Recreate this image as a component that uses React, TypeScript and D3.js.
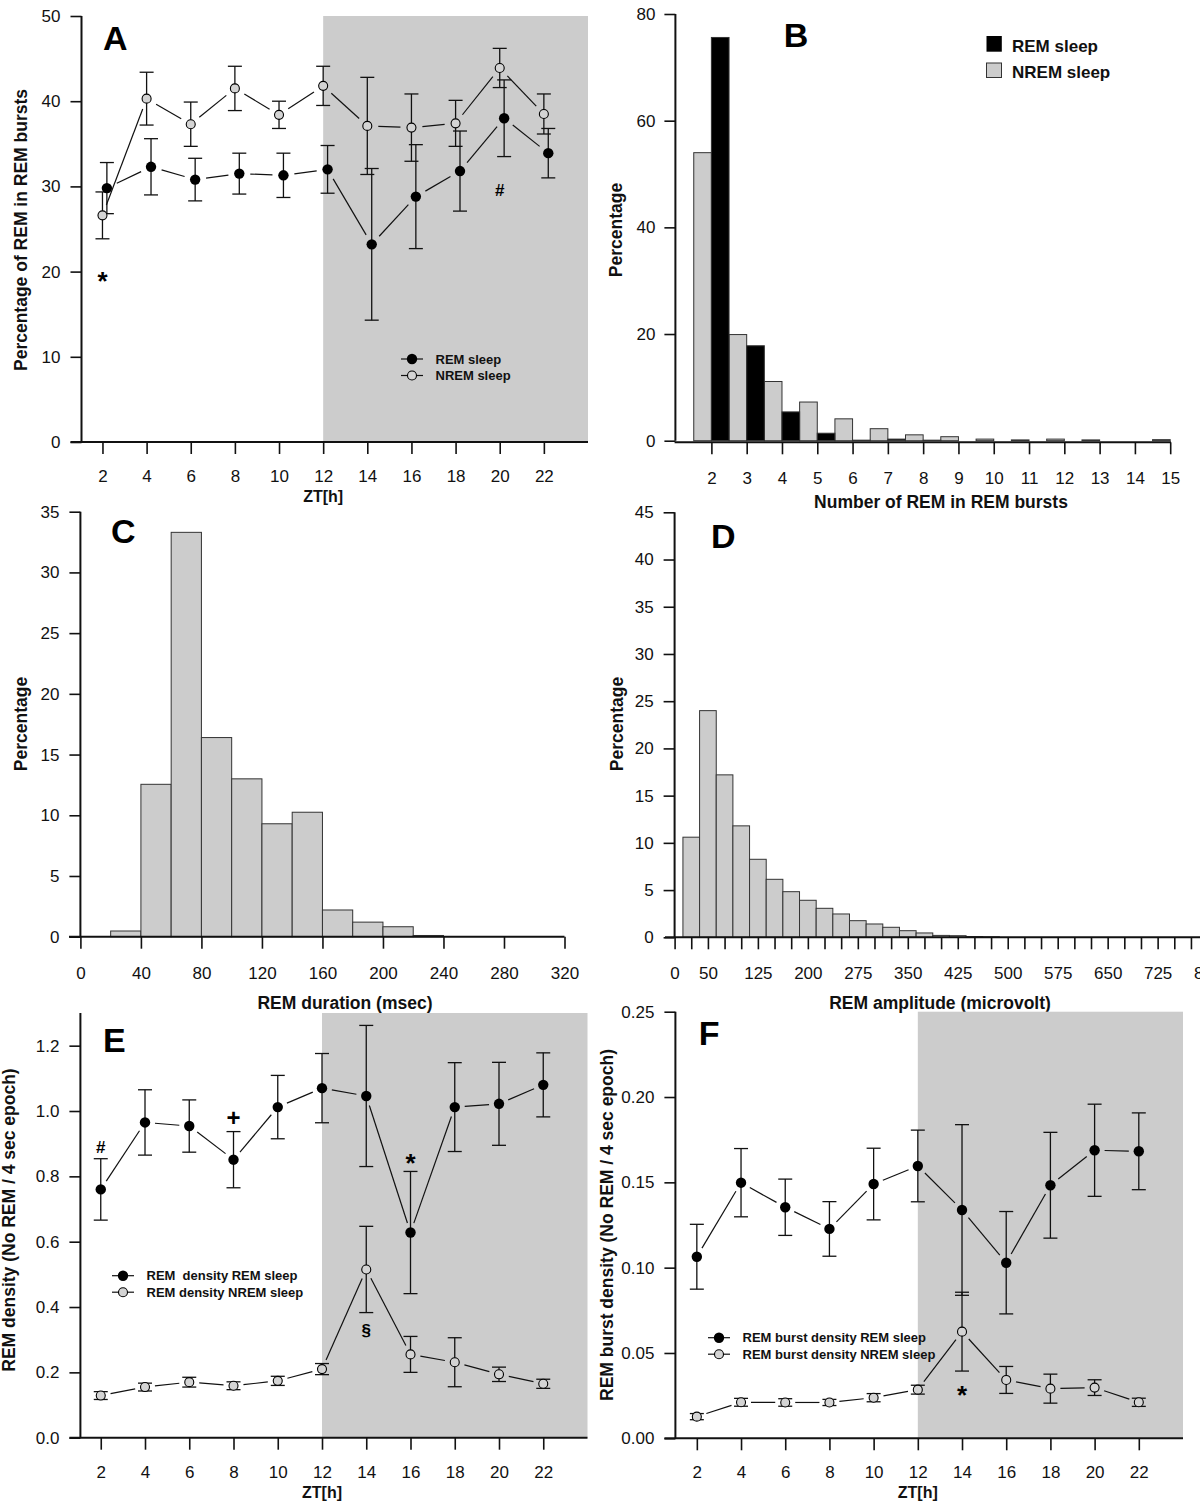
import React, { useEffect, useRef } from "react";
import * as d3 from "d3";

const FONT = "'Liberation Sans', Arial, Helvetica, sans-serif";

// ZT hours shared by panels A, E and F
const ztHours = [2, 4, 6, 8, 10, 12, 14, 16, 18, 20, 22];

// panel A: percentage of REM in REM bursts
const aRemMean = [29.8, 32.3, 30.8, 31.5, 31.3, 32.0, 23.2, 28.8, 31.8, 38.0, 33.9];
const aRemErr = [3.0, 3.3, 2.5, 2.4, 2.6, 2.8, 8.9, 6.1, 4.7, 4.5, 2.9];
const aNremMean = [26.6, 40.3, 37.3, 41.5, 38.4, 41.8, 37.1, 36.9, 37.4, 43.9, 38.5];
const aNremErr = [2.75, 3.1, 2.6, 2.6, 1.6, 2.3, 5.7, 3.95, 2.7, 2.3, 2.35];

// panel B: number of REM in REM bursts
const bCounts = [2, 3, 4, 5, 6, 7, 8, 9, 10, 11, 12, 13, 14, 15];
const bRem = [75.6, 17.8, 5.4, 1.4, 0.1, 0.3, 0.1, 0, 0, 0, 0, 0, 0, 0];
const bNrem = [54.0, 19.9, 11.1, 7.25, 4.1, 2.25, 1.1, 0.75, 0.3, 0.15, 0.3, 0.15, 0, 0.2];

// panel C: REM duration histogram (bin mids, msec)
const cMids = [30, 50, 70, 90, 110, 130, 150, 170, 190, 210, 230];
const cPercent = [0.47, 12.55, 33.3, 16.4, 13.0, 9.3, 10.25, 2.2, 1.2, 0.82, 0.1];

// panel D: REM amplitude histogram (bin mids, microvolt)
const dMids = [25, 50, 75, 100, 125, 150, 175, 200, 225, 250, 275, 300, 325, 350, 375, 400, 425, 450, 475];
const dPercent = [10.6, 24.0, 17.2, 11.8, 8.26, 6.14, 4.83, 3.92, 3.07, 2.47, 1.76, 1.41, 1.06, 0.7, 0.46, 0.2, 0.17, 0.08, 0.05];
const dLabels = [0, 50, 125, 200, 275, 350, 425, 500, 575, 650, 725, 800];

// panel E: REM density
const eRemMean = [0.76, 0.965, 0.954, 0.851, 1.012, 1.07, 1.046, 0.628, 1.012, 1.022, 1.08];
const eRemErr = [0.094, 0.1, 0.08, 0.086, 0.097, 0.106, 0.216, 0.187, 0.136, 0.127, 0.098];
const eNremMean = [0.129, 0.155, 0.17, 0.159, 0.174, 0.21, 0.515, 0.255, 0.231, 0.194, 0.165];
const eNremErr = [0.012, 0.012, 0.015, 0.012, 0.014, 0.017, 0.132, 0.055, 0.075, 0.022, 0.014];

// panel F: REM burst density
const fRemMean = [0.1064, 0.1498, 0.1354, 0.1227, 0.149, 0.1596, 0.1338, 0.1029, 0.1483, 0.1688, 0.1682];
const fRemErr = [0.019, 0.02, 0.0165, 0.016, 0.021, 0.021, 0.05, 0.03, 0.031, 0.027, 0.0225];
const fNremMean = [0.0127, 0.0211, 0.021, 0.021, 0.0238, 0.0285, 0.0625, 0.0342, 0.0291, 0.0297, 0.0211];
const fNremErr = [0.0018, 0.0023, 0.0022, 0.0018, 0.0024, 0.0026, 0.0231, 0.0079, 0.0085, 0.0046, 0.0024];

// significance marks
const glyphStyle: Record<string, { size: number; lift: number }> = {
  "*": { size: 26, lift: 0.57 },
  "#": { size: 17, lift: 0.36 },
  "+": { size: 24, lift: 0.33 },
  "§": { size: 17, lift: 0.26 },
};

interface Series {
  mean: number[];
  err: number[];
  filled: boolean;
  shift: number;
}
interface Note {
  zt: number;
  value: number;
  glyph: string;
}

const Axis: React.FC<{
  scale: any;
  orient: "bottom" | "left";
  ticks: number[];
  format: (d: number) => string;
  x?: number;
  y?: number;
  size?: number;
  pad?: number;
}> = ({ scale, orient, ticks, format, x = 0, y = 0, size = 11, pad = 10 }) => {
  const ref = useRef<SVGGElement>(null);
  useEffect(() => {
    if (ref.current === null) return;
    const axis = (orient === "bottom" ? d3.axisBottom(scale) : d3.axisLeft(scale))
      .tickValues(ticks)
      .tickSizeInner(size)
      .tickSizeOuter(0)
      .tickPadding(pad)
      .tickFormat(format as any);
    const g = d3.select(ref.current);
    g.call(axis as any);
    g.select(".domain").remove();
    g.selectAll(".tick line").attr("stroke", "#111").attr("stroke-width", 1.6);
    g.selectAll(".tick text")
      .attr("fill", "#111")
      .style("font-size", "17px")
      .style("font-family", FONT);
  });
  return <g ref={ref} transform={`translate(${x},${y})`} />;
};

const gapSegments = (pts: [number, number][], gap: number) => {
  const segs: number[][] = [];
  for (let i = 0; i < pts.length - 1; i++) {
    const [x1, y1] = pts[i];
    const [x2, y2] = pts[i + 1];
    const d = Math.hypot(x2 - x1, y2 - y1);
    if (d <= 2 * gap) continue;
    const ux = (x2 - x1) / d;
    const uy = (y2 - y1) / d;
    segs.push([x1 + ux * gap, y1 + uy * gap, x2 - ux * gap, y2 - uy * gap]);
  }
  return segs;
};

const Marker: React.FC<{ cx: number; cy: number; filled: boolean }> = ({ cx, cy, filled }) =>
  filled ? (
    <circle cx={cx} cy={cy} r={5.2} fill="#000" />
  ) : (
    <circle cx={cx} cy={cy} r={4.5} fill="#d4d4d4" stroke="#000" strokeWidth={1.1} />
  );

const RotTitle: React.FC<{ x: number; y: number; text: string }> = ({ x, y, text }) => (
  <text
    transform={`translate(${x},${y}) rotate(-90)`}
    textAnchor="middle"
    dy="0.35em"
    fontFamily={FONT}
    fontWeight="bold"
    fontSize={17.5}
    fill="#111"
  >
    {text}
  </text>
);

const Letter: React.FC<{ x: number; y: number; text: string }> = ({ x, y, text }) => (
  <text x={x} y={y} fontFamily={FONT} fontWeight="bold" fontSize={34} fill="#000">
    {text}
  </text>
);

const TimePanel: React.FC<{
  left: number;
  right: number;
  top: number;
  bottom: number;
  xMin: number;
  yMax: number;
  yTicks: number[];
  yFormat: (d: number) => string;
  series: Series[];
  notes: Note[];
  letter: string;
  letterX: number;
  letterY: number;
  legendX: number;
  legendY: number;
  legendLabels: string[];
  yTitle: string;
  yTitleX: number;
  yTitleY: number;
  gap: number;
}> = (p) => {
  const x = d3.scaleLinear().domain([p.xMin, 24]).range([p.left, p.right]);
  const y = d3.scaleLinear().domain([0, p.yMax]).range([p.bottom, p.top]);
  const cap = 7;

  return (
    <g>
      <rect x={x(12)} y={y(p.yMax)} width={x(24) - x(12)} height={y(0) - y(p.yMax)} fill="#cccccc" />
      <line x1={p.left - 11} x2={p.right} y1={p.bottom} y2={p.bottom} stroke="#111" strokeWidth={2} />
      <line x1={p.left} x2={p.left} y1={p.bottom} y2={y(p.yMax)} stroke="#111" strokeWidth={2} />
      <Axis scale={x} orient="bottom" ticks={ztHours} format={(d) => String(d)} y={p.bottom} size={12} pad={16} />
      <Axis scale={y} orient="left" ticks={p.yTicks} format={p.yFormat} x={p.left} size={11} pad={10} />

      {p.series.map((s, si) => {
        const pts = ztHours.map((h, i) => [x(h + s.shift), y(s.mean[i])] as [number, number]);
        return (
          <g key={"s" + si}>
            {gapSegments(pts, p.gap).map((sg, i) => (
              <line key={i} x1={sg[0]} y1={sg[1]} x2={sg[2]} y2={sg[3]} stroke="#111" strokeWidth={1.2} />
            ))}
            {ztHours.map((h, i) => {
              const cx = x(h + s.shift);
              const hi = y(s.mean[i] + s.err[i]);
              const lo = y(s.mean[i] - s.err[i]);
              return (
                <g key={i} stroke="#111" strokeWidth={1.3}>
                  <line x1={cx} x2={cx} y1={hi} y2={lo} />
                  <line x1={cx - cap} x2={cx + cap} y1={hi} y2={hi} />
                  <line x1={cx - cap} x2={cx + cap} y1={lo} y2={lo} />
                </g>
              );
            })}
          </g>
        );
      })}
      {p.series.map((s, si) =>
        ztHours.map((h, i) => (
          <Marker key={si + "-" + i} cx={x(h + s.shift)} cy={y(s.mean[i])} filled={s.filled} />
        ))
      )}

      {p.notes.map((n, i) => {
        const st = glyphStyle[n.glyph];
        return (
          <text
            key={"n" + i}
            x={x(n.zt)}
            y={y(n.value) + st.size * st.lift}
            textAnchor="middle"
            fontFamily={FONT}
            fontWeight="bold"
            fontSize={st.size}
            fill="#000"
          >
            {n.glyph}
          </text>
        );
      })}

      {p.legendLabels.map((lab, i) => {
        const ly = p.legendY + i * 16.5;
        return (
          <g key={"l" + i}>
            <line x1={p.legendX} x2={p.legendX + 22} y1={ly} y2={ly} stroke="#111" strokeWidth={1.2} />
            <Marker cx={p.legendX + 11} cy={ly} filled={i === 0} />
            <text
              x={p.legendX + 34.5}
              y={ly}
              dy="0.35em"
              fontFamily={FONT}
              fontWeight="bold"
              fontSize={13}
              fill="#111"
              style={{ whiteSpace: "pre" }}
            >
              {lab}
            </text>
          </g>
        );
      })}

      <Letter x={p.letterX} y={p.letterY} text={p.letter} />
      <text x={x(12)} y={p.bottom + 60} textAnchor="middle" fontFamily={FONT} fontWeight="bold" fontSize={16} fill="#111">
        ZT[h]
      </text>
      <RotTitle x={p.yTitleX} y={p.yTitleY} text={p.yTitle} />
    </g>
  );
};

const HistPanel: React.FC<{
  mids: number[];
  values: number[];
  binWidth: number;
  xDomain: [number, number];
  xRange: [number, number];
  yMax: number;
  top: number;
  bottom: number;
  axisFrom: number;
  axisTo: number;
  xTicks: number[];
  xLabels: number[];
  yTicks: number[];
  letter: string;
  letterX: number;
  letterY: number;
  xTitle: string;
  xTitleX: number;
  yTitleX: number;
  yTitleY: number;
}> = (p) => {
  const x = d3.scaleLinear().domain(p.xDomain).range(p.xRange);
  const y = d3.scaleLinear().domain([0, p.yMax]).range([p.bottom, p.top]);
  const left = p.xRange[0];
  return (
    <g>
      {p.mids.map((m, i) => (
        <rect
          key={i}
          x={x(m - p.binWidth / 2)}
          y={y(p.values[i])}
          width={x(m + p.binWidth / 2) - x(m - p.binWidth / 2)}
          height={y(0) - y(p.values[i])}
          fill="#cccccc"
          stroke="#333"
          strokeWidth={1}
        />
      ))}
      <line x1={p.axisFrom} x2={p.axisTo} y1={p.bottom} y2={p.bottom} stroke="#111" strokeWidth={2} />
      <line x1={left} x2={left} y1={p.bottom} y2={p.top} stroke="#111" strokeWidth={2} />
      <Axis
        scale={x}
        orient="bottom"
        ticks={p.xTicks}
        format={(d) => (p.xLabels.includes(d) ? String(d) : "")}
        y={p.bottom}
        size={12}
        pad={18}
      />
      <Axis scale={y} orient="left" ticks={p.yTicks} format={(d) => String(d)} x={left} size={11} pad={10} />
      <Letter x={p.letterX} y={p.letterY} text={p.letter} />
      <text x={p.xTitleX} y={1008.5} textAnchor="middle" fontFamily={FONT} fontWeight="bold" fontSize={17.5} fill="#111">
        {p.xTitle}
      </text>
      <RotTitle x={p.yTitleX} y={p.yTitleY} text="Percentage" />
    </g>
  );
};

const BurstPanel: React.FC = () => {
  const x = d3.scaleLinear().domain([1, 15]).range([676.1, 1170.2]);
  const y = d3.scaleLinear().domain([0, 80]).range([440.7, 14]);
  return (
    <g>
      {bCounts.map((k, i) =>
        bNrem[i] > 0 ? (
          <rect
            key={"n" + k}
            x={x(k - 0.5)}
            y={y(bNrem[i])}
            width={x(k) - x(k - 0.5)}
            height={y(0) - y(bNrem[i])}
            fill="#cccccc"
            stroke="#333"
            strokeWidth={1}
          />
        ) : null
      )}
      {bCounts.map((k, i) =>
        bRem[i] > 0 ? (
          <rect
            key={"r" + k}
            x={x(k)}
            y={y(bRem[i])}
            width={x(k + 0.5) - x(k)}
            height={y(0) - y(bRem[i])}
            fill="#000"
            stroke="#333"
            strokeWidth={1}
          />
        ) : null
      )}
      <line x1={674.6} x2={1171} y1={442.3} y2={442.3} stroke="#111" strokeWidth={2} />
      <line x1={675.4} x2={675.4} y1={440.7} y2={14} stroke="#111" strokeWidth={2} />
      <Axis scale={x} orient="bottom" ticks={bCounts} format={(d) => String(d)} y={442.3} size={12} pad={18} />
      <Axis scale={y} orient="left" ticks={[0, 20, 40, 60, 80]} format={(d) => String(d)} x={675.4} size={11} pad={9} />
      <rect x={986.5} y={36} width={15.3} height={15.7} fill="#000" />
      <rect x={986.5} y={63} width={15} height={14.5} fill="#cccccc" stroke="#333" strokeWidth={1} />
      <text x={1012} y={52} fontFamily={FONT} fontWeight="bold" fontSize={17} fill="#111">
        REM sleep
      </text>
      <text x={1012} y={78} fontFamily={FONT} fontWeight="bold" fontSize={17} fill="#111">
        NREM sleep
      </text>
      <Letter x={783.7} y={46.7} text="B" />
      <text x={941} y={508} textAnchor="middle" fontFamily={FONT} fontWeight="bold" fontSize={17.5} fill="#111">
        Number of REM in REM bursts
      </text>
      <RotTitle x={616} y={230} text="Percentage" />
    </g>
  );
};

const App: React.FC = () => {
  return (
    <div>
      <svg
        width={1200}
        height={1501}
        viewBox="0 0 1200 1501"
        style={{ position: "absolute", left: 0, top: 0, background: "#fff" }}
      >
        <rect x={0} y={0} width={1200} height={1501} fill="#fff" />
        <TimePanel
          left={81.5}
          right={588}
          top={16}
          bottom={442}
          xMin={1.05}
          yMax={50}
          yTicks={[0, 10, 20, 30, 40, 50]}
          yFormat={(d) => String(d)}
          series={[
            { mean: aNremMean, err: aNremErr, filled: false, shift: 0 },
            { mean: aRemMean, err: aRemErr, filled: true, shift: 0.2 },
          ]}
          notes={[
            { zt: 2, value: 19.6, glyph: "*" },
            { zt: 20, value: 29.6, glyph: "#" },
          ]}
          letter="A"
          letterX={103}
          letterY={50}
          legendX={401}
          legendY={359}
          legendLabels={["REM sleep", "NREM sleep"]}
          yTitle="Percentage of REM in REM bursts"
          yTitleX={21}
          yTitleY={230}
          gap={11}
        />
        <BurstPanel />
        <HistPanel
          mids={cMids}
          values={cPercent}
          binWidth={20}
          xDomain={[0, 320]}
          xRange={[80.4, 564.5]}
          yMax={35}
          top={511.7}
          bottom={936.7}
          axisFrom={69}
          axisTo={564.5}
          xTicks={d3.range(0, 321, 40)}
          xLabels={d3.range(0, 321, 40)}
          yTicks={d3.range(0, 36, 5)}
          letter="C"
          letterX={111}
          letterY={543}
          xTitle="REM duration (msec)"
          xTitleX={345}
          yTitleX={20.5}
          yTitleY={724}
        />
        <HistPanel
          mids={dMids}
          values={dPercent}
          binWidth={25}
          xDomain={[0, 800]}
          xRange={[674.6, 1207.6]}
          yMax={45}
          top={512.3}
          bottom={937.3}
          axisFrom={665}
          axisTo={1207.6}
          xTicks={d3.range(0, 801, 25)}
          xLabels={dLabels}
          yTicks={d3.range(0, 46, 5)}
          letter="D"
          letterX={711}
          letterY={548}
          xTitle="REM amplitude (microvolt)"
          xTitleX={940}
          yTitleX={616.6}
          yTitleY={724}
        />
        <TimePanel
          left={80.4}
          right={587.5}
          top={1013}
          bottom={1437.7}
          xMin={1.08}
          yMax={1.3}
          yTicks={[0, 0.2, 0.4, 0.6, 0.8, 1.0, 1.2]}
          yFormat={d3.format(".1f")}
          series={[
            { mean: eNremMean, err: eNremErr, filled: false, shift: 0 },
            { mean: eRemMean, err: eRemErr, filled: true, shift: 0 },
          ]}
          notes={[
            { zt: 2, value: 0.891, glyph: "#" },
            { zt: 8, value: 0.978, glyph: "+" },
            { zt: 16, value: 0.86, glyph: "*" },
            { zt: 14, value: 0.324, glyph: "§" },
          ]}
          letter="E"
          letterX={103}
          letterY={1052}
          legendX={112}
          legendY={1275.7}
          legendLabels={["REM  density REM sleep", "REM density NREM sleep"]}
          yTitle="REM density (No REM / 4 sec epoch)"
          yTitleX={8.6}
          yTitleY={1220}
          gap={10}
        />
        <TimePanel
          left={675.4}
          right={1183}
          top={1011.7}
          bottom={1438.3}
          xMin={1.03}
          yMax={0.25}
          yTicks={[0, 0.05, 0.1, 0.15, 0.2, 0.25]}
          yFormat={d3.format(".2f")}
          series={[
            { mean: fNremMean, err: fNremErr, filled: false, shift: 0 },
            { mean: fRemMean, err: fRemErr, filled: true, shift: 0 },
          ]}
          notes={[{ zt: 14, value: 0.029, glyph: "*" }]}
          letter="F"
          letterX={698.7}
          letterY={1045}
          legendX={708}
          legendY={1337.7}
          legendLabels={["REM burst density REM sleep", "REM burst density NREM sleep"]}
          yTitle="REM burst density (No REM / 4 sec epoch)"
          yTitleX={607}
          yTitleY={1225}
          gap={10}
        />
      </svg>
    </div>
  );
};

export default App;
